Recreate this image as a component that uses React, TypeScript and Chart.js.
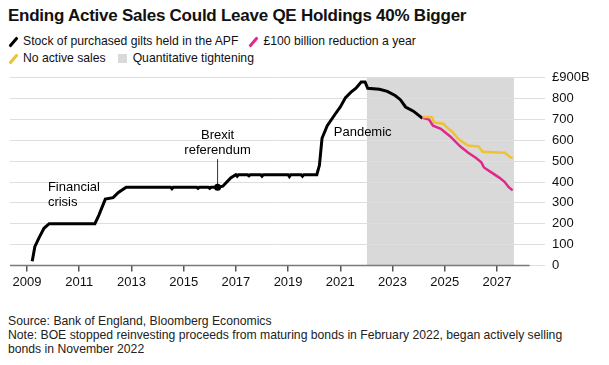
import React, { useEffect, useRef } from "react";
import { Chart, registerables } from "chart.js";

Chart.register(...registerables);

const TITLE = "Ending Active Sales Could Leave QE Holdings 40% Bigger";
const SOURCE = "Source: Bank of England, Bloomberg Economics";
const NOTE = "Note: BOE stopped reinvesting proceeds from maturing bonds in February 2022, began actively selling bonds in November 2022";

const SERIES_NAMES = [
  "Stock of purchased gilts held in the APF",
  "£100 billion reduction a year",
  "No active sales",
  "Quantitative tightening",
];

const X_TICKS = [2009, 2011, 2013, 2015, 2017, 2019, 2021, 2023, 2025, 2027];
const Y_TICKS = [0, 100, 200, 300, 400, 500, 600, 700, 800, 900];

// Stock of purchased gilts (year, £bn)
const APF_YEARS = [
  2009.2, 2009.3, 2009.45, 2009.65, 2009.85, 2011.6, 2011.75, 2012.0, 2012.3, 2012.5, 2012.8,
  2014.5, 2014.55, 2014.6, 2015.5, 2015.55, 2015.6, 2015.95, 2016.0, 2016.05, 2016.3,
  2016.5, 2016.8, 2017.0, 2017.05, 2017.1, 2017.45, 2017.5, 2017.55, 2017.95, 2018.0, 2018.05,
  2019.0, 2019.05, 2019.1, 2019.5, 2019.55, 2019.6, 2020.1,
  2020.2, 2020.3, 2020.5, 2020.8, 2021.0, 2021.2, 2021.4, 2021.6, 2021.8, 2021.95,
  2022.05, 2022.5, 2022.8, 2023.1, 2023.3, 2023.5, 2023.8, 2024.15,
];
const APF_VALUES = [
  20, 90, 130, 178, 200, 200, 240, 318, 325, 350, 375,
  375, 368, 375, 375, 370, 375, 375, 370, 375, 375,
  380, 420, 435, 428, 435, 435, 430, 435, 435, 428, 435,
  435, 426, 435, 435, 428, 435, 435,
  480, 610, 670, 725, 760, 805, 830, 850, 880, 880,
  850, 845, 835, 815, 795, 760, 740, 705,
];

// £100 billion reduction a year
const CUT_YEARS = [2024.15, 2024.4, 2024.55, 2024.85, 2025.0, 2025.2, 2025.4, 2025.6, 2025.9, 2026.2, 2026.4, 2026.5, 2026.8, 2027.1, 2027.3, 2027.45, 2027.6];
const CUT_VALUES = [708, 700, 670, 655, 640, 620, 595, 570, 540, 515, 495, 470, 445, 420, 400, 375, 360];

// No active sales
const NOSALE_YEARS = [2024.15, 2024.5, 2024.6, 2024.95, 2025.1, 2025.3, 2025.5, 2025.65, 2025.9, 2026.3, 2026.45, 2027.3, 2027.5, 2027.6];
const NOSALE_VALUES = [712, 712, 685, 680, 660, 640, 610, 595, 575, 570, 545, 540, 520, 515];

const QT_START = 2022.02;
const QT_END = 2027.65;

const BREXIT_YEAR = 2016.3;
const BREXIT_VALUE = 375;

const BLACK = "#000000";
const PINK = "#e0288c";
const YELLOW = "#f0c233";
const GREY_BOX = "#d9d9d9";

const toPts = (xs: number[], ys: number[]) => xs.map((x, i) => ({ x, y: ys[i] }));

const FONT = "'Liberation Sans', Arial, sans-serif";

export default function App() {
  const ref = useRef<HTMLCanvasElement | null>(null);

  useEffect(() => {
    if (!ref.current) return;
    const bgPlugin = {
      id: "qtbox",
      beforeDraw(chart: any) {
        const { ctx, scales } = chart;
        const x = scales.x, y = scales.y;
        ctx.save();
        ctx.fillStyle = GREY_BOX;
        const x0 = x.getPixelForValue(QT_START);
        const x1 = x.getPixelForValue(QT_END);
        const y0 = y.getPixelForValue(900);
        const y1 = y.getPixelForValue(0);
        ctx.fillRect(x0, y0, x1 - x0, y1 - y0);
        ctx.restore();
      },
      afterDatasetsDraw(chart: any) {
        const { ctx, scales } = chart;
        const x = scales.x, y = scales.y;
        ctx.save();
        // x axis baseline
        ctx.strokeStyle = "#7a7a7a";
        ctx.lineWidth = 1.5;
        ctx.beginPath();
        ctx.moveTo(chart.chartArea.left, y.getPixelForValue(0));
        ctx.lineTo(x.getPixelForValue(2028.25), y.getPixelForValue(0));
        ctx.stroke();
        // Brexit annotation
        const bx = x.getPixelForValue(BREXIT_YEAR);
        const by = y.getPixelForValue(BREXIT_VALUE);
        ctx.strokeStyle = "#333";
        ctx.lineWidth = 1;
        ctx.beginPath();
        ctx.moveTo(bx, by);
        ctx.lineTo(bx, y.getPixelForValue(510));
        ctx.stroke();
        ctx.fillStyle = "#000";
        ctx.beginPath();
        ctx.arc(bx, by, 3.5, 0, Math.PI * 2);
        ctx.fill();
        ctx.font = `13px ${FONT}`;
        ctx.textBaseline = "middle";
        ctx.textAlign = "center";
        ctx.fillText("Brexit", bx, y.getPixelForValue(625));
        ctx.fillText("referendum", bx, y.getPixelForValue(552));
        ctx.textAlign = "left";
        ctx.fillText("Financial", x.getPixelForValue(2009.8), y.getPixelForValue(373));
        ctx.fillText("crisis", x.getPixelForValue(2009.8), y.getPixelForValue(300));
        ctx.fillText("Pandemic", x.getPixelForValue(2020.75), y.getPixelForValue(640));
        ctx.restore();
      },
    };

    const chart = new Chart(ref.current, {
      type: "line",
      data: {
        datasets: [
          {
            label: SERIES_NAMES[2],
            data: toPts(NOSALE_YEARS, NOSALE_VALUES),
            borderColor: YELLOW,
            borderWidth: 2.5,
            pointRadius: 0,
            tension: 0,
          },
          {
            label: SERIES_NAMES[1],
            data: toPts(CUT_YEARS, CUT_VALUES),
            borderColor: PINK,
            borderWidth: 2.5,
            pointRadius: 0,
            tension: 0,
          },
          {
            label: SERIES_NAMES[0],
            data: toPts(APF_YEARS, APF_VALUES),
            borderColor: BLACK,
            borderWidth: 3,
            pointRadius: 0,
            tension: 0,
          },
        ],
      },
      options: {
        animation: false,
        responsive: false,
        maintainAspectRatio: false,
        layout: { padding: { left: 10, right: 0, top: 8, bottom: 0 } },
        plugins: { legend: { display: false }, tooltip: { enabled: false } },
        scales: {
          x: {
            type: "linear",
            min: 2008.349,
            max: 2028.84,
            afterBuildTicks: (axis: any) => {
              axis.ticks = X_TICKS.map((v) => ({ value: v }));
            },
            grid: {
              drawOnChartArea: false,
              drawTicks: true,
              tickLength: 6,
              color: "#555",
              lineWidth: 1.5,
            },
            border: { display: false },
            ticks: {
              color: "#111",
              font: { size: 13, family: FONT },
              padding: 3,
              maxRotation: 0,
              autoSkip: false,
              callback: (v: any) => String(v),
            },
          },
          y: {
            position: "right",
            min: 0,
            max: 900,
            afterBuildTicks: (axis: any) => {
              axis.ticks = Y_TICKS.map((v) => ({ value: v }));
            },
            grid: { color: "#dedede", lineWidth: 1, drawTicks: false },
            border: { display: false },
            ticks: {
              color: "#111",
              font: { size: 13, family: FONT },
              padding: 7,
              callback: (v: any) => (v === 900 ? "£900B" : String(v)),
            },
            afterFit: (axis: any) => {
              axis.width = 64;
            },
          },
        },
      },
      plugins: [bgPlugin],
    });
    return () => chart.destroy();
  }, []);

  const slash = (color: string) => (
    <span style={{ display: "inline-block", width: 10, height: 14, position: "relative", marginRight: 5, verticalAlign: "middle" }}>
      <span style={{ position: "absolute", left: 4, top: 1, width: 3, height: 12, background: color, transform: "rotate(40deg)", borderRadius: 1 }} />
    </span>
  );
  const square = (
    <span style={{ display: "inline-block", width: 9, height: 9, background: GREY_BOX, marginRight: 6, verticalAlign: "middle" }} />
  );

  return (
    <div style={{ position: "absolute", left: 0, top: 0, width: 609, height: 365, background: "#fff", fontFamily: FONT, color: "#111", overflow: "hidden" }}>
      <div style={{ position: "absolute", left: 8, top: 6, fontSize: 17, fontWeight: "bold", whiteSpace: "nowrap", letterSpacing: -0.25 }}>{TITLE}</div>
      <div style={{ position: "absolute", left: 8, top: 33, fontSize: 12.2, lineHeight: "17px", whiteSpace: "nowrap" }}>
        <div>
          {slash(BLACK)}
          <span style={{ marginRight: 10 }}>{SERIES_NAMES[0]}</span>
          {slash(PINK)}
          <span>{SERIES_NAMES[1]}</span>
        </div>
        <div>
          {slash(YELLOW)}
          <span style={{ marginRight: 12 }}>{SERIES_NAMES[2]}</span>
          {square}
          <span>{SERIES_NAMES[3]}</span>
        </div>
      </div>
      <canvas ref={ref} width={609} height={230} style={{ position: "absolute", left: 0, top: 63, width: 609, height: 230 }} />
      <div style={{ position: "absolute", left: 8, top: 314, width: 580, fontSize: 12.2, lineHeight: "14px", color: "#222" }}>
        <div>{SOURCE}</div>
        <div>{NOTE}</div>
      </div>
    </div>
  );
}
